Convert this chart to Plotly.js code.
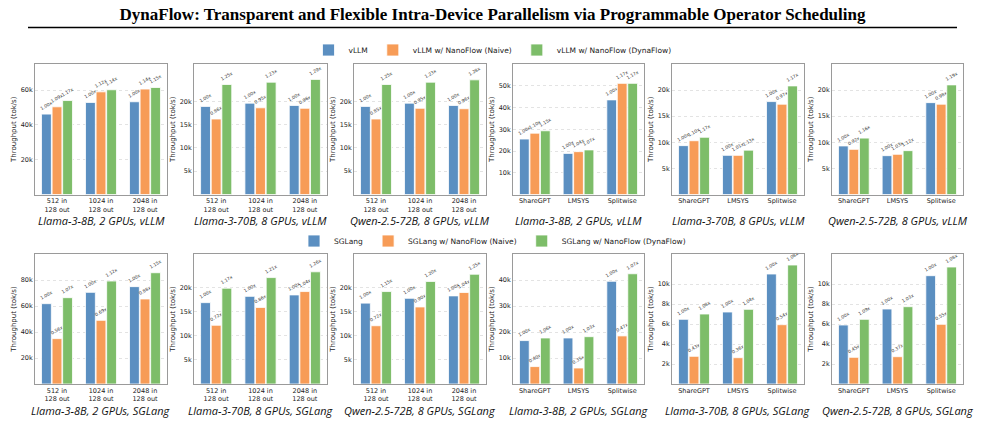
<!DOCTYPE html>
<html>
<head>
<meta charset="utf-8">
<script src="https://cdn.plot.ly/plotly-3.0.1.min.js"></script>
<style>html,body{margin:0;padding:0;background:#fff;}#chart{width:985px;height:422px;}</style>
</head>
<body>
<div id="chart"></div>
<script>
// ---------- categories ----------
const lenCats = ['512 in<br>128 out', '1024 in<br>128 out', '2048 in<br>128 out'];
const dsCats = ['ShareGPT', 'LMSYS', 'Splitwise'];

// ---------- series names ----------
const vllmNames = ['vLLM', 'vLLM w/ NanoFlow (Naive)', 'vLLM w/ NanoFlow (DynaFlow)'];
const sglNames = ['SGLang', 'SGLang w/ NanoFlow (Naive)', 'SGLang w/ NanoFlow (DynaFlow)'];

// ---------- subplot titles ----------
const panelTitles = [
  'Llama-3-8B, 2 GPUs, vLLM', 'Llama-3-70B, 8 GPUs, vLLM', 'Qwen-2.5-72B, 8 GPUs, vLLM',
  'Llama-3-8B, 2 GPUs, vLLM', 'Llama-3-70B, 8 GPUs, vLLM', 'Qwen-2.5-72B, 8 GPUs, vLLM',
  'Llama-3-8B, 2 GPUs, SGLang', 'Llama-3-70B, 8 GPUs, SGLang', 'Qwen-2.5-72B, 8 GPUs, SGLang',
  'Llama-3-8B, 2 GPUs, SGLang', 'Llama-3-70B, 8 GPUs, SGLang', 'Qwen-2.5-72B, 8 GPUs, SGLang'
];

// ---------- values (tok/s) ----------
// Row 1: vLLM
const p1Base = [46200, 52900, 53300], p1Naive = [50400, 59000, 60600], p1Dyna = [54000, 60200, 61500];
const p1NaiveLbl = ['1.09x', '1.12x', '1.14x'], p1DynaLbl = ['1.17x', '1.14x', '1.15x'];

const p2Base = [18900, 19600, 19100], p2Naive = [16200, 18600, 18500], p2Dyna = [23600, 24100, 24700];
const p2NaiveLbl = ['0.86x', '0.95x', '0.96x'], p2DynaLbl = ['1.25x', '1.23x', '1.29x'];

const p3Base = [18900, 19600, 19100], p3Naive = [16200, 18500, 18400], p3Dyna = [23600, 24100, 24600];
const p3NaiveLbl = ['0.85x', '0.95x', '0.96x'], p3DynaLbl = ['1.25x', '1.23x', '1.28x'];

const p4Base = [25500, 18900, 43500], p4Naive = [28200, 19700, 51100], p4Dyna = [29300, 20500, 51100];
const p4NaiveLbl = ['1.10x', '1.04x', '1.17x'], p4DynaLbl = ['1.15x', '1.07x', '1.17x'];

const p5Base = [9360, 7500, 17800], p5Naive = [10300, 7500, 17300], p5Dyna = [10960, 8500, 20800];
const p5NaiveLbl = ['1.10x', '1.01x', '0.97x'], p5DynaLbl = ['1.17x', '1.13x', '1.17x'];

const p6Base = [9300, 7440, 17600], p6Naive = [8650, 7700, 17300], p6Dyna = [10800, 8400, 21000];
const p6NaiveLbl = ['0.92x', '1.03x', '0.98x'], p6DynaLbl = ['1.16x', '1.12x', '1.19x'];

// Row 2: SGLang
const p7Base = [61800, 70500, 74900], p7Naive = [34900, 49000, 65400], p7Dyna = [66400, 79200, 85600];
const p7NaiveLbl = ['0.56x', '0.69x', '0.88x'], p7DynaLbl = ['1.07x', '1.12x', '1.15x'];

const p8Base = [16900, 18200, 18500], p8Naive = [12200, 15900, 19200], p8Dyna = [19900, 22100, 23300];
const p8NaiveLbl = ['0.72x', '0.86x', '1.04x'], p8DynaLbl = ['1.17x', '1.21x', '1.26x'];

const p9Base = [16800, 17800, 18300], p9Naive = [12100, 16000, 19000], p9Dyna = [19200, 21300, 22800];
const p9NaiveLbl = ['0.72x', '0.90x', '1.04x'], p9DynaLbl = ['1.15x', '1.20x', '1.25x'];

const p10Base = [16700, 17700, 39500], p10Naive = [6700, 6150, 18500], p10Dyna = [17700, 18200, 42400];
const p10NaiveLbl = ['0.40x', '0.35x', '0.47x'], p10DynaLbl = ['1.06x', '1.03x', '1.07x'];

const p11Base = [6470, 7200, 11000], p11Naive = [2770, 2630, 5930], p11Dyna = [7000, 7470, 11900];
const p11NaiveLbl = ['0.43x', '0.36x', '0.54x'], p11DynaLbl = ['1.08x', '1.04x', '1.08x'];

const p12Base = [5900, 7500, 10830], p12Naive = [2670, 2730, 5970], p12Dyna = [6470, 7730, 11700];
const p12NaiveLbl = ['0.45x', '0.37x', '0.55x'], p12DynaLbl = ['1.09x', '1.03x', '1.08x'];

const baseLbl = ['1.00x', '1.00x', '1.00x'];

// ---------- y tick values ----------
const t20k = [20000, 40000, 60000];
const t5k = [5000, 10000, 15000, 20000];
const t10k = [10000, 20000, 30000, 40000, 50000];
const t20k4 = [20000, 40000, 60000, 80000];
const t10k4 = [10000, 20000, 30000, 40000];
const t2k = [2000, 4000, 6000, 8000, 10000];

// ---------- panel table built from the arrays ----------
const panels = [
  [lenCats, p1Base, p1Naive, p1Dyna, p1NaiveLbl, p1DynaLbl, t20k, 75000],
  [lenCats, p2Base, p2Naive, p2Dyna, p2NaiveLbl, p2DynaLbl, t5k, 28000],
  [lenCats, p3Base, p3Naive, p3Dyna, p3NaiveLbl, p3DynaLbl, t5k, 28000],
  [dsCats, p4Base, p4Naive, p4Dyna, p4NaiveLbl, p4DynaLbl, t10k, 60000],
  [dsCats, p5Base, p5Naive, p5Dyna, p5NaiveLbl, p5DynaLbl, t5k, 25000],
  [dsCats, p6Base, p6Naive, p6Dyna, p6NaiveLbl, p6DynaLbl, t5k, 25000],
  [lenCats, p7Base, p7Naive, p7Dyna, p7NaiveLbl, p7DynaLbl, t20k4, 100000],
  [lenCats, p8Base, p8Naive, p8Dyna, p8NaiveLbl, p8DynaLbl, t5k, 27000],
  [lenCats, p9Base, p9Naive, p9Dyna, p9NaiveLbl, p9DynaLbl, t5k, 27000],
  [dsCats, p10Base, p10Naive, p10Dyna, p10NaiveLbl, p10DynaLbl, t10k4, 50000],
  [dsCats, p11Base, p11Naive, p11Dyna, p11NaiveLbl, p11DynaLbl, t2k, 13000],
  [dsCats, p12Base, p12Naive, p12Dyna, p12NaiveLbl, p12DynaLbl, t2k, 13000]
];

const colors = ['#5b8fc1', '#f79c57', '#7dbd69'];
const W = 985, H = 422;
const colX = [[35, 167], [194, 327], [354, 486], [513, 644], [672, 804], [832, 963]];
const rowY = [[64, 194.5], [254, 384]];
const titleY = [220, 410];

const traces = [];
const layout = {
  width: W, height: H,
  margin: {l: 0, r: 0, t: 0, b: 0},
  paper_bgcolor: '#fff', plot_bgcolor: '#fff',
  barmode: 'group', bargap: 0.28, bargroupgap: 0.07,
  font: {family: 'DejaVu Sans, sans-serif', color: '#222'},
  title: {
    text: 'DynaFlow: Transparent and Flexible Intra-Device Parallelism via Programmable Operator Scheduling',
    font: {family: 'Liberation Serif, Times New Roman, serif', size: 17, weight: 'bold', color: '#000'},
    x: 0.5, xanchor: 'center', xref: 'paper', y: 1 - 14 / H, yanchor: 'middle'
  },
  shapes: [{
    type: 'line', xref: 'paper', yref: 'paper',
    x0: 28 / W, x1: 957 / W, y0: 1 - 27.5 / H, y1: 1 - 27.5 / H,
    line: {color: '#000', width: 1.5}
  }],
  annotations: [],
  legend: {
    orientation: 'h', x: 0.5, xanchor: 'center', y: 1 - 50 / H, yanchor: 'middle',
    font: {size: 7.5, color: '#222'}, bgcolor: 'rgba(0,0,0,0)', itemwidth: 30, tracegroupgap: 0
  },
  legend2: {
    orientation: 'h', x: 0.5, xanchor: 'center', y: 1 - 241 / H, yanchor: 'middle',
    font: {size: 7.5, color: '#222'}, bgcolor: 'rgba(0,0,0,0)', itemwidth: 30, tracegroupgap: 0
  }
};

panels.forEach((p, i) => {
  const [cats, base, naive, dyna, nLbl, dLbl, ticks, ymax] = p;
  const row = i < 6 ? 0 : 1;
  const col = i % 6;
  const ax = i === 0 ? '' : String(i + 1);
  const names = row === 0 ? vllmNames : sglNames;
  const series = [base, naive, dyna];
  const lbls = [baseLbl, nLbl, dLbl];
  series.forEach((vals, k) => {
    traces.push({
      type: 'bar', x: cats, y: vals, name: names[k],
      xaxis: 'x' + ax, yaxis: 'y' + ax,
      marker: {color: colors[k], line: {color: '#ffffff', width: 0.8}},
      text: lbls[k], textposition: 'outside', textangle: -30,
      textfont: {size: 4.5, color: '#333'}, constraintext: 'none', cliponaxis: false,
      showlegend: (col === 0), legend: row === 0 ? 'legend' : 'legend2',
      hoverinfo: 'x+y'
    });
  });
  const xd = [colX[col][0] / W, colX[col][1] / W];
  const yd = [1 - rowY[row][1] / H, 1 - rowY[row][0] / H];
  layout['xaxis' + ax] = {
    domain: xd, anchor: 'y' + ax, type: 'category',
    showline: true, mirror: true, linecolor: '#9a9a9a', linewidth: 1,
    showgrid: false, ticks: '', tickfont: {size: 6.5, color: '#222'}, fixedrange: true
  };
  layout['yaxis' + ax] = {
    domain: yd, anchor: 'x' + ax, range: [0, ymax],
    tickvals: ticks, tickformat: '~s',
    showline: true, mirror: true, linecolor: '#9a9a9a', linewidth: 1,
    showgrid: true, gridcolor: '#dcdcdc', griddash: 'dot', gridwidth: 0.8,
    zeroline: false, ticks: '', tickfont: {size: 6.5, color: '#222'},
    title: {text: 'Throughput (tok/s)', font: {size: 7, color: '#222'}, standoff: 3},
    fixedrange: true
  };
  layout.annotations.push({
    xref: 'paper', yref: 'paper', x: (xd[0] + xd[1]) / 2, y: 1 - titleY[row] / H,
    xanchor: 'center', yanchor: 'middle', showarrow: false,
    text: panelTitles[i],
    font: {family: 'Open Sans, Noto Sans, sans-serif', size: 11, style: 'italic', color: '#111'}
  });
});

Plotly.newPlot('chart', traces, layout, {displayModeBar: false, staticPlot: true});
</script>
</body>
</html>
